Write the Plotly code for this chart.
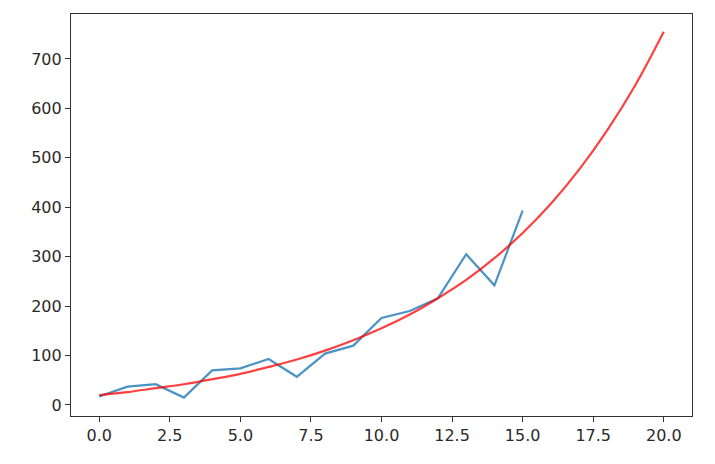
import plotly.graph_objects as go

# Observed series (blue)
x_obs = list(range(16))
y_obs = [17, 37, 42, 15, 70, 74, 93, 57, 104, 120, 176, 190, 216, 305, 242, 393]

# Fitted curve (red), read at integer x
x_fit = list(range(21))
y_fit = [20, 26, 34, 42, 52, 63, 77, 92, 110, 131, 155, 183, 216, 253, 297, 348,
         407, 476, 556, 648, 755]

x_ticks = [0, 2.5, 5, 7.5, 10, 12.5, 15, 17.5, 20]
x_ticktext = ["0.0", "2.5", "5.0", "7.5", "10.0", "12.5", "15.0", "17.5", "20.0"]
y_ticks = [0, 100, 200, 300, 400, 500, 600, 700]

fig = go.Figure()
fig.add_trace(go.Scatter(x=x_obs, y=y_obs, mode="lines",
                         line=dict(color="rgba(31,119,180,0.8)", width=2.2),
                         showlegend=False))
fig.add_trace(go.Scatter(x=x_fit, y=y_fit, mode="lines",
                         line=dict(color="rgba(255,0,0,0.75)", width=2.2, shape="spline"),
                         showlegend=False))

axis_common = dict(showline=True, linecolor="#333333", linewidth=1.2, mirror=True,
                   ticks="outside", ticklen=5, tickwidth=1.2, tickcolor="#333333",
                   showgrid=False, zeroline=False,
                   tickfont=dict(family="DejaVu Sans", size=16, color="#2a2a2a"))

fig.update_layout(
    width=715, height=464,
    margin=dict(l=63, r=31, t=6, b=56),
    paper_bgcolor="white", plot_bgcolor="white",
    xaxis=dict(range=[-1, 21], tickvals=x_ticks, ticktext=x_ticktext, **axis_common),
    yaxis=dict(range=[-22.3, 791], tickvals=y_ticks, **axis_common),
)

fig.write_html("out.html")
